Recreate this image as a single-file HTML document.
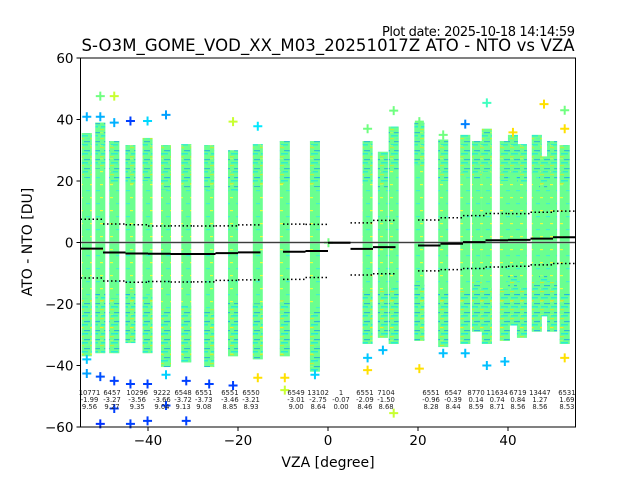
<!DOCTYPE html>
<html><head><meta charset="utf-8"><style>
html,body{margin:0;padding:0;background:#fff;}
svg{display:block;font-family:"DejaVu Sans","Liberation Sans",sans-serif;}
</style></head><body>
<svg id="chart" width="640" height="480" viewBox="0 0 640 480" xmlns="http://www.w3.org/2000/svg">
<defs>
<pattern id="speck" width="10" height="9" patternUnits="userSpaceOnUse">
<rect width="10" height="9" fill="#6aff90"/>
<rect y="0" x="1" width="7" height="1.5" fill="#00e0ff"/>
<rect y="3" x="0" width="4" height="1.2" fill="#ffe000"/>
<rect y="6" x="4" width="6" height="1.2" fill="#0090ff"/>
</pattern>
<pattern id="speck2" width="10" height="13" patternUnits="userSpaceOnUse">
<rect width="10" height="13" fill="#6aff90"/>
<rect y="2" x="0" width="3" height="1.2" fill="#e8ff40"/>
<rect y="8" x="6" width="4" height="1.2" fill="#40f0d0"/>
</pattern>
</defs>
<rect x="0" y="0" width="640" height="480" fill="#fff"/>
<text x="575" y="36" font-size="13" text-anchor="end" textLength="193">Plot date: 2025-10-18 14:14:59</text>
<text x="328" y="51" font-size="16.5" text-anchor="middle" textLength="493">S-O3M_GOME_VOD_XX_M03_20251017Z ATO - NTO vs VZA</text>
<g id="cols"></g>
<g id="pts"></g>
<g id="stats"></g>
<g id="labels"></g>
<rect x="80.5" y="58" width="495" height="369" fill="none" stroke="#000" stroke-width="1"/>
<g id="axes"></g>
<text x="328" y="467" font-size="14" text-anchor="middle">VZA [degree]</text>
<text x="32" y="242" font-size="14" text-anchor="middle" transform="rotate(-90 32 242)">ATO - NTO [DU]</text>
</svg>
<script>
// column data (VZA degrees, top and bottom of dense point cloud in DU)
const colX   = [-53.6,-50.6,-47.5,-43.9,-40.1,-36,-31.5,-26.4,-21.1,-15.6,-9.6,-2.9,8.8,12.2,14.6,20.3,25.6,30.5,33.1,35.3,39.3,41.1,43.1,46.4,48.0,49.8,52.6];
const colTop = [35.6,39,33,31.7,34,31.7,32,31.7,30,32,33,33,33,29.5,37.7,39,33.5,35,33,37,33,35,32,35,28,33,31.7];
const colBot = [-37,-36,-36,-32.7,-36,-40.5,-39,-40.5,-37,-38,-37,-42,-33,-31,-33,-32,-34,-33,-29,-33,-32,-27,-31,-29,-24,-29,-33];
// outlier points
const ptX = [-53.6,-53.6,-53.6,-50.6,-50.6,-50.6,-50.6,-47.5,-47.5,-47.5,-47.5,-43.9,-43.9,-43.9,-40.1,-40.1,-40.1,-36,-36,-36,-31.5,-31.5,-26.4,-21.1,-21.1,-15.6,-15.6,-9.6,-9.6,-2.9,0.1,8.8,8.8,8.8,12.2,14.6,14.6,20.3,20.3,25.6,25.6,30.5,30.5,35.3,35.3,39.3,41.1,48.0,52.6,52.6,52.6];
const ptY = [40.9,-38,-42.6,47.6,40.9,-43.6,-59,47.6,39,-45,-54,39.5,-46,-59,39.5,-46,-58,41.5,-43,-53,-45,-58,-46,39.3,-46.5,37.8,-44,-44,-48,-43,-0.07,37,-41.5,-37.5,-35,42.9,-55.5,39.3,-41,35,-36,38.5,-36,45.4,-40,-38.7,35.8,45,43,37,-37.5];
const ptC = ["#00b0ff","#00c8ff","#00a0ff","#70ff80","#00b0ff","#0050ff","#0030ff","#c8ff30","#00b0ff","#0040ff","#0040ff","#0040ff","#0040ff","#0040ff","#00d8ff","#0040ff","#0040ff","#00a0ff","#00d0ff","#0040ff","#0040ff","#0040ff","#0040ff","#c8ff30","#0040ff","#00e8ff","#ffe000","#ffe000","#c8ff30","#00d0ff","#70ff80","#70ff80","#ffe000","#00c8ff","#00c0ff","#70ff80","#c8ff30","#70ff80","#ffe000","#70ff80","#00c0ff","#0080ff","#00c0ff","#40ffc0","#00c0ff","#00c0ff","#ffe000","#ffe000","#70ff80","#ffe000","#ffe000"];
// bin statistics (5-degree bins)
const binLo  = [-55,-50,-45,-40,-35,-30,-25,-20,-10,-5,0,5,10,20,25,30,35,40,45,50];
const counts = ["10771","6457","10296","9222","6548","6551","6551","6550","6549","13102","1","6551","7104","6551","6547","8770","11634","6719","13447","6531"];
const means  = [-1.99,-3.27,-3.56,-3.66,-3.72,-3.73,-3.46,-3.21,-3.01,-2.75,-0.07,-2.09,-1.50,-0.96,-0.39,0.14,0.74,0.84,1.27,1.69];
const stds   = [9.56,9.27,9.35,9.04,9.13,9.08,8.85,8.93,9.00,8.64,0.00,8.46,8.68,8.28,8.44,8.59,8.71,8.56,8.56,8.53];
const labelX = [-53,-48,-42.4,-36.9,-32.2,-27.6,-21.8,-17.1,-7.1,-2.2,2.9,8.2,12.9,22.9,27.8,32.9,37.6,42.2,47.1,53.1];
const xTicks = [-40,-20,0,20,40];
const yTicks = [-60,-40,-20,0,20,40,60];

const NS="http://www.w3.org/2000/svg";
const X0=80.5,X1=575.5,Y0=58,Y1=427;
const sx=v=>X0+(v+55)/110*(X1-X0);
const sy=v=>Y1-(v+60)/120*(Y1-Y0);
function mk(tag,attrs,parent){const e=document.createElementNS(NS,tag);for(const k in attrs)e.setAttribute(k,attrs[k]);parent.appendChild(e);return e;}
const gc=document.getElementById('cols'),gp=document.getElementById('pts'),gs=document.getElementById('stats'),gl=document.getElementById('labels'),ga=document.getElementById('axes');

colX.forEach((x,i)=>{
  const cx=sx(x),t=sy(colTop[i]),b=sy(colBot[i]);
  const r=mk('rect',{x:cx-5,y:t,width:10,height:b-t,fill:'url(#speck2)'},gc);
  
  
  const bandH=(b-t)*0.2;
  const r1=mk('rect',{x:cx-5,y:t,width:10,height:bandH,fill:'url(#speck)',opacity:0.55},gc);
  
  
  const r2=mk('rect',{x:cx-5,y:b-bandH*1.3,width:10,height:bandH*1.3,fill:'url(#speck)',opacity:0.6},gc);
  
  
});
ptX.forEach((x,i)=>{
  const cx=sx(x),cy=sy(ptY[i]);
  const p=mk('path',{d:`M${cx-4.5},${cy}H${cx+4.5}M${cx},${cy-4.5}V${cy+4.5}`,stroke:ptC[i],'stroke-width':2,fill:'none'},gp);
  
  
});
const z=mk('line',{x1:X0,x2:X1,y1:sy(0),y2:sy(0),stroke:'#000','stroke-width':1},gs);


mk('line',{x1:X0,x2:X1,y1:sy(0),y2:sy(0),stroke:'#999','stroke-width':3,opacity:0.4},gs);
binLo.forEach((lo,i)=>{
  const a=sx(lo),b=sx(lo+5);
  const m=mk('line',{x1:a,x2:b,y1:sy(means[i]),y2:sy(means[i]),stroke:'#000','stroke-width':2},gs);
  
  
  [means[i]+stds[i],means[i]-stds[i]].forEach(v=>{
    const d=mk('line',{x1:a,x2:b,y1:sy(v),y2:sy(v),stroke:'#000','stroke-width':1.5,'stroke-dasharray':'1.5 2.5'},gs);
    
    
  });
  const tx=sx(labelX[i]);
  [counts[i],means[i].toFixed(2),stds[i].toFixed(2)].forEach((s,j)=>{
    const t=mk('text',{x:tx,y:395+j*7,'font-size':6.8,'text-anchor':'middle',fill:'#222'},gl);
    t.textContent=s;
    
    
  });
});
xTicks.forEach(v=>{
  const x=sx(v);
  const l=mk('line',{x1:x,x2:x,y1:Y1,y2:Y1+4,stroke:'#000'},ga);
  
  
  const t=mk('text',{x:x,y:Y1+18,'font-size':13.5,'text-anchor':'middle'},ga);
  t.textContent=v<0?'\u2212'+(-v):String(v);
  
  
});
yTicks.forEach(v=>{
  const y=sy(v);
  const l=mk('line',{x1:X0-4,x2:X0,y1:y,y2:y,stroke:'#000'},ga);
  
  
  const t=mk('text',{x:X0-7,y:y+5,'font-size':13.5,'text-anchor':'end'},ga);
  t.textContent=v<0?'\u2212'+(-v):String(v);
  
  
});
</script>
</body></html>
